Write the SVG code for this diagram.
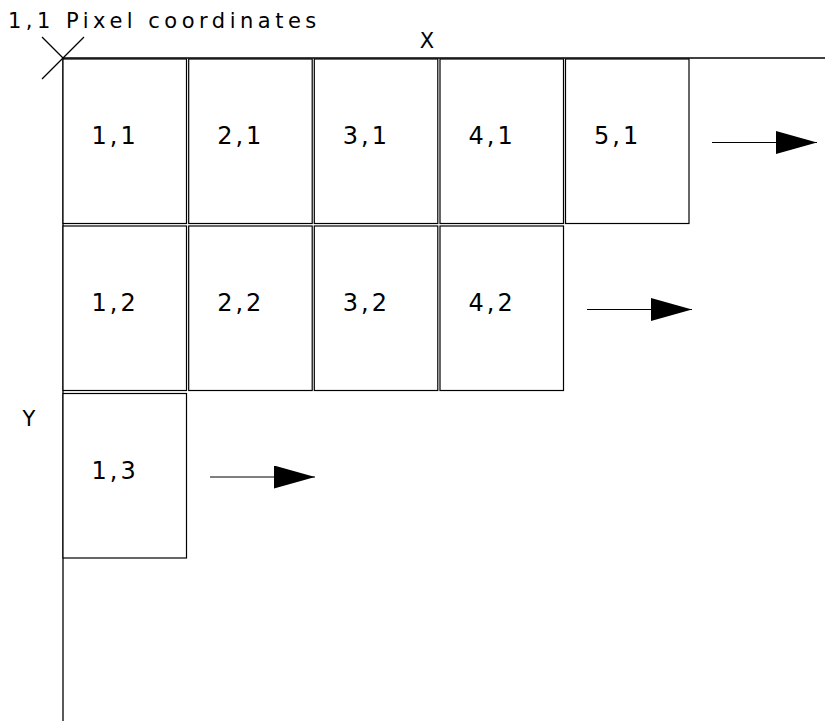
<svg xmlns="http://www.w3.org/2000/svg" width="825" height="721" viewBox="0 0 825 721">
  <style>
    .cell { fill: #ffffff; stroke: #000000; stroke-width: 1.2; }
    .lbl { font-family: "DejaVu Sans", sans-serif; font-size: 24px; letter-spacing: 3px; fill: #000000; }
    .axis { stroke: #000000; stroke-width: 1.3; fill: none; }
    .title { font-family: "DejaVu Sans", sans-serif; font-size: 21px; letter-spacing: 4.5px; fill: #000000; }
    .axlbl { font-family: "DejaVu Sans", sans-serif; font-size: 21px; fill: #000000; text-anchor: middle; }
    .arrow { stroke: #000000; stroke-width: 1.2; fill: none; marker-end: url(#head); }
  </style>
  <defs>
    <marker id="head" markerUnits="userSpaceOnUse" markerWidth="42" markerHeight="24" refX="41" refY="11.5" orient="auto" viewBox="0 0 42 24">
      <path d="M0,0 L41,11.5 L0,23 Z" fill="#000000"/>
    </marker>
  </defs>
  <rect width="825" height="721" fill="#ffffff"/>

  <g id="axes">
    <line class="axis" x1="63" y1="58" x2="825" y2="58"/>
    <line class="axis" x1="63" y1="58" x2="63" y2="721"/>
    <line class="axis" x1="42" y1="37" x2="84" y2="79"/>
    <line class="axis" x1="42" y1="79" x2="84" y2="37"/>
    <text class="title" x="8" y="28">1,1 Pixel coordinates</text>
    <text class="axlbl" x="427" y="48">X</text>
    <text class="axlbl" x="29" y="426">Y</text>
  </g>

  <g id="cell-1-1"><rect class="cell" x="63" y="59" width="123.5" height="164.5"/><text class="lbl" x="91.5" y="144">1,1</text></g>
  <g id="cell-2-1"><rect class="cell" x="188.7" y="59" width="123.5" height="164.5"/><text class="lbl" x="217.2" y="144">2,1</text></g>
  <g id="cell-3-1"><rect class="cell" x="314.3" y="59" width="123.5" height="164.5"/><text class="lbl" x="342.8" y="144">3,1</text></g>
  <g id="cell-4-1"><rect class="cell" x="440" y="59" width="123.5" height="164.5"/><text class="lbl" x="468.5" y="144">4,1</text></g>
  <g id="cell-5-1"><rect class="cell" x="565.5" y="59" width="123.5" height="164.5"/><text class="lbl" x="594" y="144">5,1</text></g>

  <g id="cell-1-2"><rect class="cell" x="63" y="226" width="123.5" height="164.5"/><text class="lbl" x="91.5" y="311">1,2</text></g>
  <g id="cell-2-2"><rect class="cell" x="188.7" y="226" width="123.5" height="164.5"/><text class="lbl" x="217.2" y="311">2,2</text></g>
  <g id="cell-3-2"><rect class="cell" x="314.3" y="226" width="123.5" height="164.5"/><text class="lbl" x="342.8" y="311">3,2</text></g>
  <g id="cell-4-2"><rect class="cell" x="440" y="226" width="123.5" height="164.5"/><text class="lbl" x="468.5" y="311">4,2</text></g>

  <g id="cell-1-3"><rect class="cell" x="63" y="393.5" width="123.5" height="164.5"/><text class="lbl" x="91.5" y="479">1,3</text></g>

  <g id="connectors">
    <line class="arrow" x1="712" y1="142.5" x2="817" y2="142.5"/>
    <line class="arrow" x1="587" y1="309.5" x2="692" y2="309.5"/>
    <line class="arrow" x1="210" y1="477" x2="315" y2="477"/>
  </g>
</svg>
